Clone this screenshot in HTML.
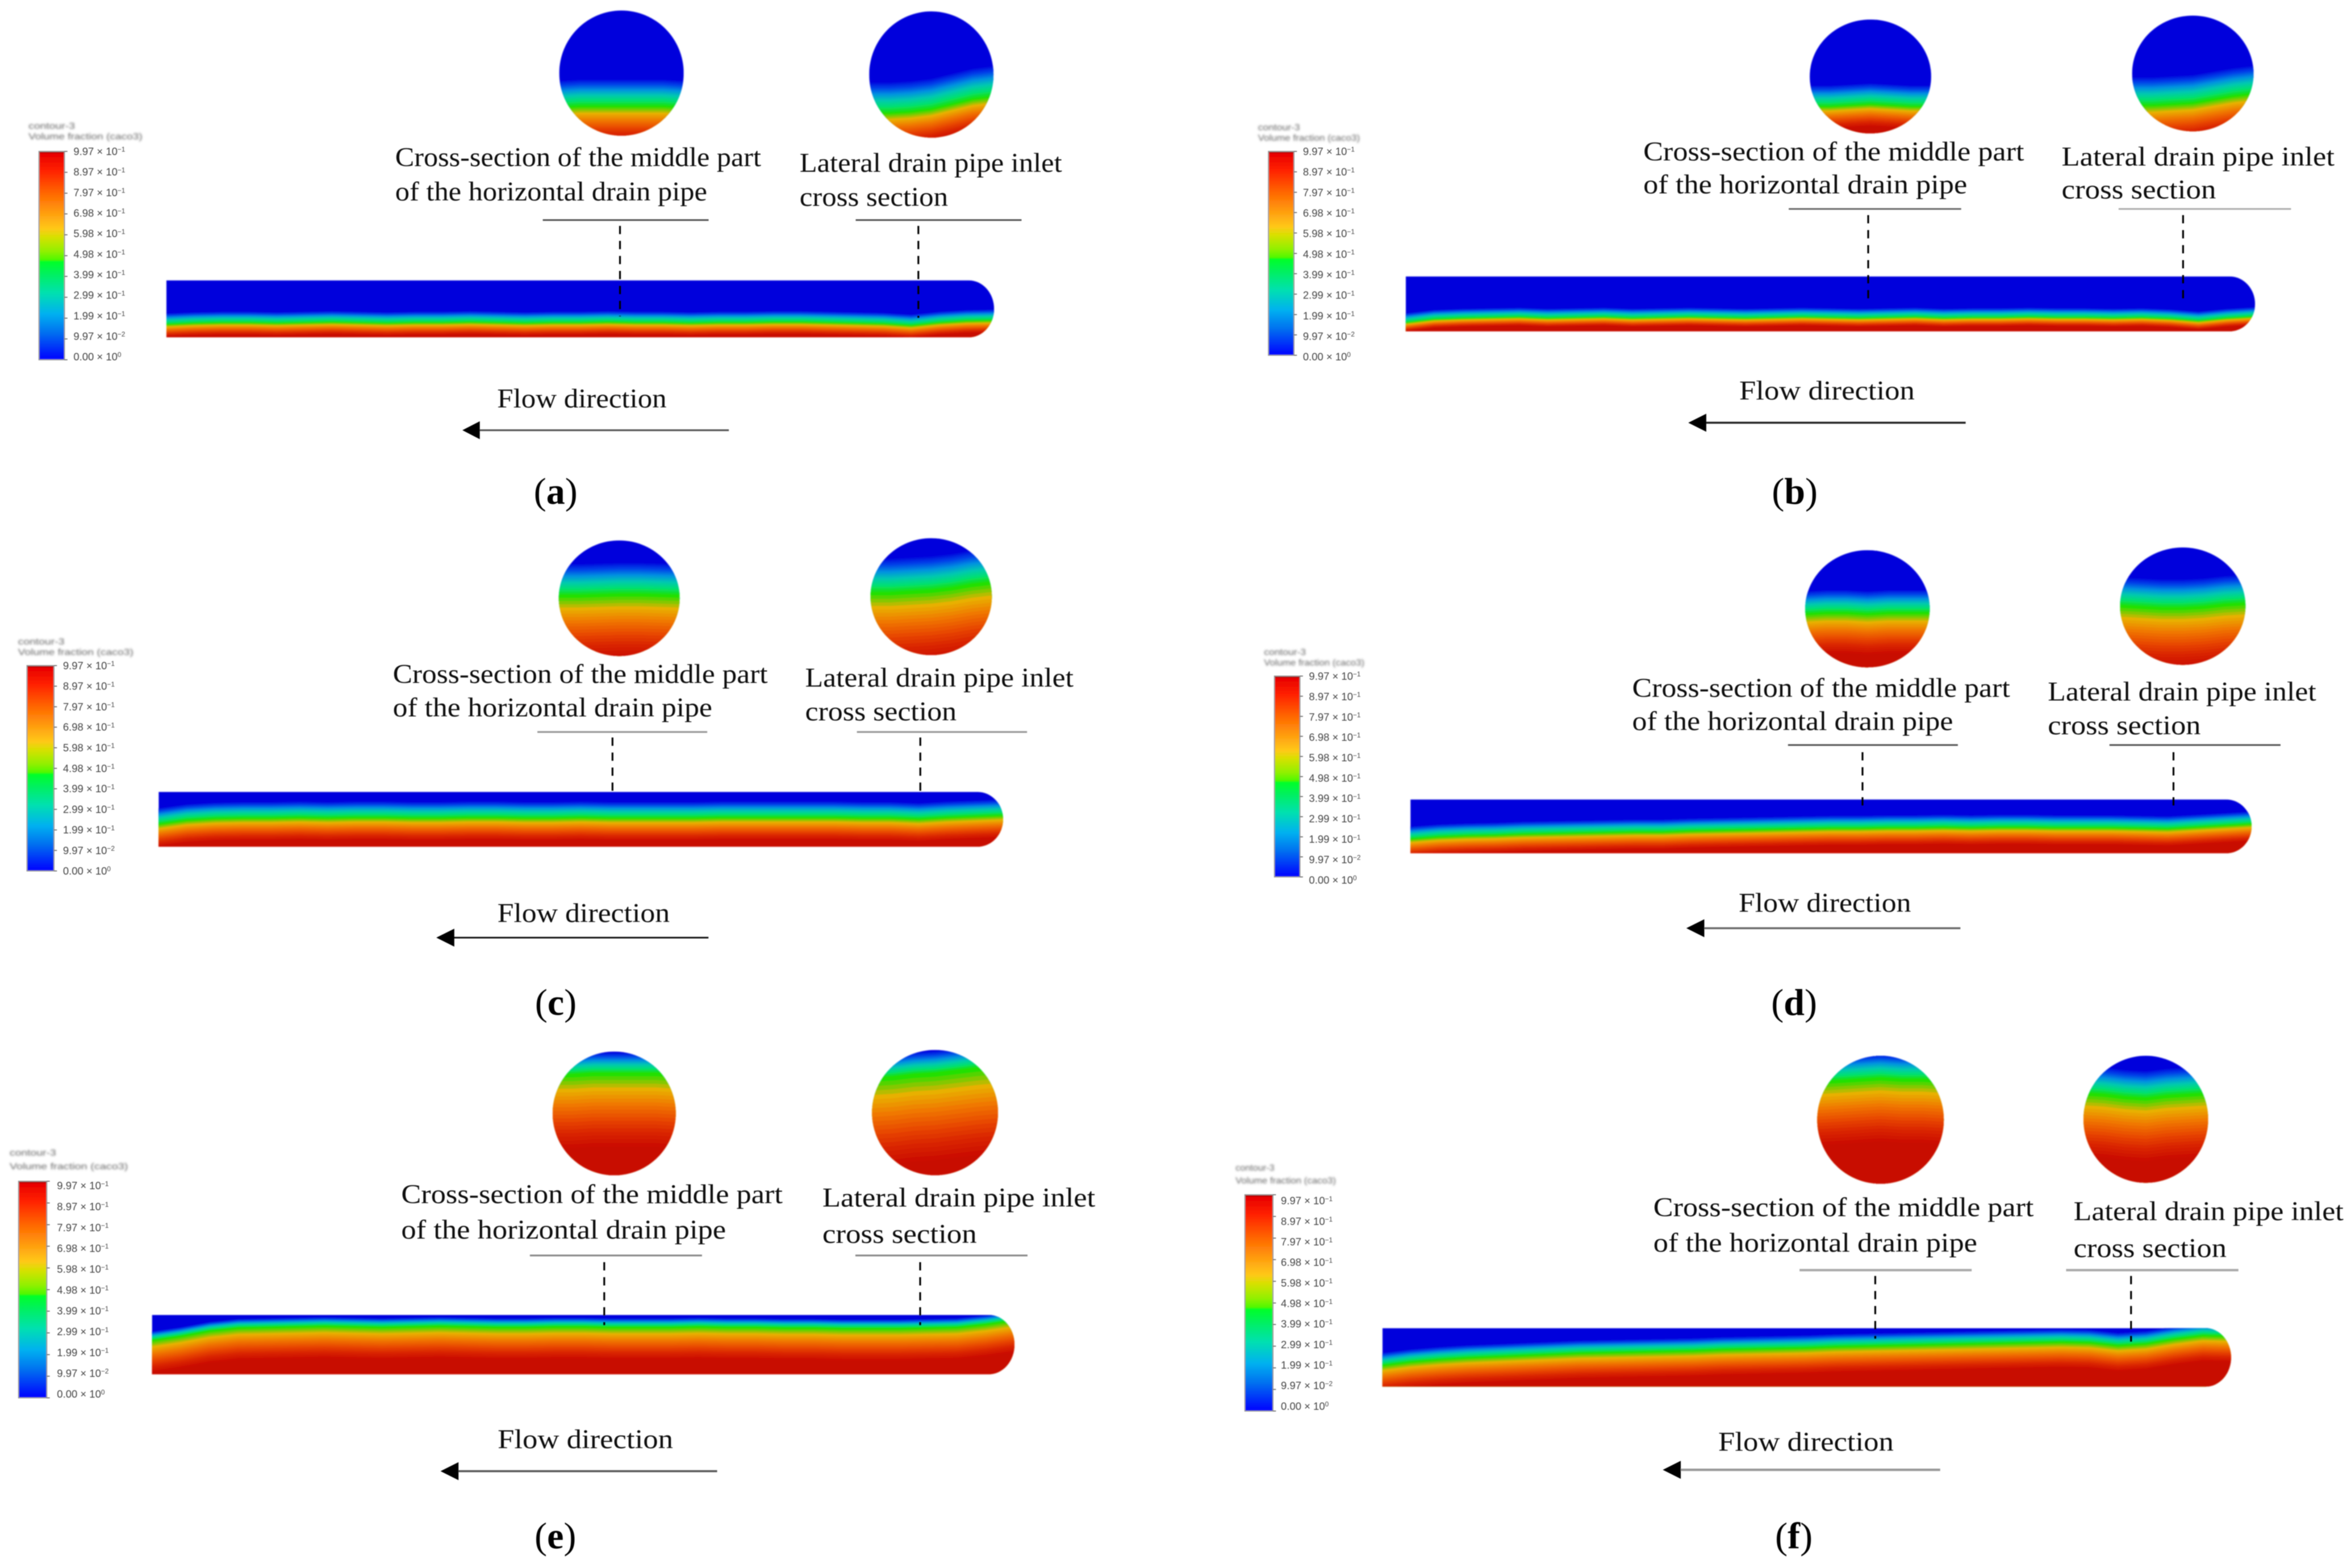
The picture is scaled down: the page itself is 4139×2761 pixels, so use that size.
<!DOCTYPE html>
<html lang="en">
<head>
<meta charset="utf-8">
<title>Volume fraction contours in a horizontal drain pipe</title>
<style>
html,body{margin:0;padding:0;background:#fff;}
svg{display:block;}
.lbl{font-family:"Liberation Serif",serif;font-size:18px;fill:#111;}
.cap{font-family:"Liberation Serif",serif;font-size:25px;fill:#000;text-anchor:middle;}
.cbt{font-family:"Liberation Sans",sans-serif;font-size:6px;fill:#666;}
.cbl{font-family:"Liberation Sans",sans-serif;font-size:7px;fill:#444;}
</style>
</head>
<body>
<svg xmlns="http://www.w3.org/2000/svg" width="4139" height="2761" viewBox="0 0 1568 1046" preserveAspectRatio="none">
<defs>
<filter id="soft" x="-5%" y="-5%" width="110%" height="110%"><feGaussianBlur stdDeviation="0.45"/></filter>
<filter id="softer" x="-5%" y="-20%" width="110%" height="140%"><feGaussianBlur stdDeviation="0.7"/></filter>
<filter id="texts" x="-2%" y="-2%" width="104%" height="104%"><feGaussianBlur stdDeviation="0.3"/></filter>
<linearGradient id="colorbar-gradient" x1="0" y1="0" x2="0" y2="1">
<stop offset="0" stop-color="#8a0000"/><stop offset="0.012" stop-color="#e80000"/>
<stop offset="0.09" stop-color="#ff2000"/><stop offset="0.2" stop-color="#ff6600"/>
<stop offset="0.3" stop-color="#ffa010"/><stop offset="0.37" stop-color="#ffc818"/>
<stop offset="0.41" stop-color="#d8e000"/><stop offset="0.48" stop-color="#90f000"/>
<stop offset="0.52" stop-color="#50f800"/><stop offset="0.53" stop-color="#00ff28"/>
<stop offset="0.59" stop-color="#00f060"/><stop offset="0.68" stop-color="#00e0b0"/>
<stop offset="0.78" stop-color="#00b0f0"/><stop offset="0.87" stop-color="#0070f0"/>
<stop offset="1" stop-color="#0000ff"/>
</linearGradient>
</defs>

<g id="panel-a">
<g id="marks-a"></g>
<g filter="url(#texts)">
<text class="lbl" x="263.6" y="110.9" textLength="244" lengthAdjust="spacingAndGlyphs">Cross-section of the middle part</text>
<text class="lbl" x="263.6" y="133.7" textLength="208" lengthAdjust="spacingAndGlyphs">of the horizontal drain pipe</text>
<text class="lbl" x="533.3" y="114.6" textLength="175" lengthAdjust="spacingAndGlyphs">Lateral drain pipe inlet</text>
<text class="lbl" x="533.3" y="137.4" textLength="99" lengthAdjust="spacingAndGlyphs">cross section</text>
<line x1="362" y1="146.8" x2="472.6" y2="146.8" stroke="#555" stroke-width="1.1"/>
<line x1="570.7" y1="146.8" x2="681.3" y2="146.8" stroke="#555" stroke-width="1.1"/>
<line x1="413.5" y1="150.7" x2="413.5" y2="211" stroke="#000" stroke-width="1.2" stroke-dasharray="5.5 4.5"/>
<line x1="612.5" y1="150.7" x2="612.5" y2="212" stroke="#000" stroke-width="1.2" stroke-dasharray="5.5 4.5"/>
<text class="lbl" x="331.6" y="271.8" textLength="113" lengthAdjust="spacingAndGlyphs">Flow direction</text>
<line x1="316" y1="287" x2="486.1" y2="287" stroke="#555" stroke-width="1.2"/>
<polygon points="308.4,287 320,281 320,293" fill="#000"/>
<text class="cap" x="370.6" y="336">(<tspan font-weight="bold">a</tspan>)</text>
<text class="cbt" x="19" y="86" textLength="31" lengthAdjust="spacingAndGlyphs" filter="url(#softer)">contour-3</text>
<text class="cbt" x="19" y="93" textLength="76" lengthAdjust="spacingAndGlyphs" filter="url(#softer)">Volume fraction (caco3)</text>
</g>
</g>

<g id="panel-b">
<g id="marks-b"></g>
<g filter="url(#texts)">
<text class="lbl" x="1096" y="107" textLength="254" lengthAdjust="spacingAndGlyphs">Cross-section of the middle part</text>
<text class="lbl" x="1096" y="129" textLength="216" lengthAdjust="spacingAndGlyphs">of the horizontal drain pipe</text>
<text class="lbl" x="1375" y="110.5" textLength="182" lengthAdjust="spacingAndGlyphs">Lateral drain pipe inlet</text>
<text class="lbl" x="1375" y="132.5" textLength="103" lengthAdjust="spacingAndGlyphs">cross section</text>
<line x1="1193" y1="139.4" x2="1308" y2="139.4" stroke="#666" stroke-width="1.1"/>
<line x1="1413" y1="139.4" x2="1528" y2="139.4" stroke="#aaa" stroke-width="1.1"/>
<line x1="1246" y1="143.5" x2="1246" y2="203" stroke="#000" stroke-width="1.2" stroke-dasharray="5.5 4.5"/>
<line x1="1456" y1="143.5" x2="1456" y2="203" stroke="#000" stroke-width="1.2" stroke-dasharray="5.5 4.5"/>
<text class="lbl" x="1160" y="266.5" textLength="117" lengthAdjust="spacingAndGlyphs">Flow direction</text>
<line x1="1134" y1="282" x2="1311" y2="282" stroke="#222" stroke-width="1.3"/>
<polygon points="1126,282 1138,276 1138,288" fill="#000"/>
<text class="cap" x="1197" y="336">(<tspan font-weight="bold">b</tspan>)</text>
<text class="cbt" x="839" y="87" textLength="28" lengthAdjust="spacingAndGlyphs" filter="url(#softer)">contour-3</text>
<text class="cbt" x="839" y="94" textLength="68" lengthAdjust="spacingAndGlyphs" filter="url(#softer)">Volume fraction (caco3)</text>
</g>
</g>

<g id="panel-c">
<g id="marks-c"></g>
<g filter="url(#texts)">
<text class="lbl" x="262" y="455.5" textLength="250" lengthAdjust="spacingAndGlyphs">Cross-section of the middle part</text>
<text class="lbl" x="262" y="478" textLength="213" lengthAdjust="spacingAndGlyphs">of the horizontal drain pipe</text>
<text class="lbl" x="537" y="458" textLength="179" lengthAdjust="spacingAndGlyphs">Lateral drain pipe inlet</text>
<text class="lbl" x="537" y="480.5" textLength="101" lengthAdjust="spacingAndGlyphs">cross section</text>
<line x1="358.4" y1="488.3" x2="471.7" y2="488.3" stroke="#999" stroke-width="1.2"/>
<line x1="571.5" y1="488.3" x2="685" y2="488.3" stroke="#999" stroke-width="1.2"/>
<line x1="408.5" y1="492" x2="408.5" y2="532" stroke="#000" stroke-width="1.2" stroke-dasharray="5.5 4.5"/>
<line x1="613.8" y1="492" x2="613.8" y2="532" stroke="#000" stroke-width="1.2" stroke-dasharray="5.5 4.5"/>
<text class="lbl" x="331.7" y="615" textLength="115" lengthAdjust="spacingAndGlyphs">Flow direction</text>
<line x1="299" y1="625.5" x2="472.5" y2="625.5" stroke="#111" stroke-width="1.1"/>
<polygon points="291,625.5 303,619.5 303,631.5" fill="#000"/>
<text class="cap" x="370.7" y="677">(<tspan font-weight="bold">c</tspan>)</text>
<text class="cbt" x="12" y="430" textLength="31" lengthAdjust="spacingAndGlyphs" filter="url(#softer)">contour-3</text>
<text class="cbt" x="12" y="437" textLength="77" lengthAdjust="spacingAndGlyphs" filter="url(#softer)">Volume fraction (caco3)</text>
</g>
</g>

<g id="panel-d">
<g id="marks-d"></g>
<g filter="url(#texts)">
<text class="lbl" x="1088.6" y="464.8" textLength="252" lengthAdjust="spacingAndGlyphs">Cross-section of the middle part</text>
<text class="lbl" x="1088.6" y="487" textLength="214" lengthAdjust="spacingAndGlyphs">of the horizontal drain pipe</text>
<text class="lbl" x="1365.8" y="467.4" textLength="179" lengthAdjust="spacingAndGlyphs">Lateral drain pipe inlet</text>
<text class="lbl" x="1365.8" y="489.8" textLength="102" lengthAdjust="spacingAndGlyphs">cross section</text>
<line x1="1192.5" y1="497" x2="1305.8" y2="497" stroke="#555" stroke-width="1.1"/>
<line x1="1406.9" y1="497" x2="1521" y2="497" stroke="#555" stroke-width="1.1"/>
<line x1="1242.2" y1="501.8" x2="1242.2" y2="540" stroke="#000" stroke-width="1.2" stroke-dasharray="5.5 4.5"/>
<line x1="1449.6" y1="501.8" x2="1449.6" y2="540" stroke="#000" stroke-width="1.2" stroke-dasharray="5.5 4.5"/>
<text class="lbl" x="1159.6" y="608.3" textLength="115" lengthAdjust="spacingAndGlyphs">Flow direction</text>
<line x1="1132" y1="619.2" x2="1307.5" y2="619.2" stroke="#666" stroke-width="1.3"/>
<polygon points="1124.7,619.2 1136.7,613.2 1136.7,625.2" fill="#000"/>
<text class="cap" x="1196.6" y="677">(<tspan font-weight="bold">d</tspan>)</text>
<text class="cbt" x="843" y="437" textLength="28" lengthAdjust="spacingAndGlyphs" filter="url(#softer)">contour-3</text>
<text class="cbt" x="843" y="444" textLength="67" lengthAdjust="spacingAndGlyphs" filter="url(#softer)">Volume fraction (caco3)</text>
</g>
</g>

<g id="panel-e">
<g id="marks-e"></g>
<g filter="url(#texts)">
<text class="lbl" x="267.6" y="802.5" textLength="254.4" lengthAdjust="spacingAndGlyphs">Cross-section of the middle part</text>
<text class="lbl" x="267.6" y="826.2" textLength="216.6" lengthAdjust="spacingAndGlyphs">of the horizontal drain pipe</text>
<text class="lbl" x="548.5" y="804.8" textLength="182" lengthAdjust="spacingAndGlyphs">Lateral drain pipe inlet</text>
<text class="lbl" x="548.5" y="829.2" textLength="103" lengthAdjust="spacingAndGlyphs">cross section</text>
<line x1="353.4" y1="837.5" x2="468.2" y2="837.5" stroke="#888" stroke-width="1.2"/>
<line x1="570.5" y1="837.5" x2="685.3" y2="837.5" stroke="#888" stroke-width="1.2"/>
<line x1="403" y1="842" x2="403" y2="884" stroke="#000" stroke-width="1.2" stroke-dasharray="5.5 4.5"/>
<line x1="613.7" y1="842" x2="613.7" y2="884" stroke="#000" stroke-width="1.2" stroke-dasharray="5.5 4.5"/>
<text class="lbl" x="331.9" y="966" textLength="117" lengthAdjust="spacingAndGlyphs">Flow direction</text>
<line x1="301" y1="981.4" x2="478.3" y2="981.4" stroke="#555" stroke-width="1.3"/>
<polygon points="293.8,981.4 305.8,975.4 305.8,987.4" fill="#000"/>
<text class="cap" x="370.4" y="1033">(<tspan font-weight="bold">e</tspan>)</text>
<text class="cbt" x="6.4" y="771" textLength="31" lengthAdjust="spacingAndGlyphs" filter="url(#softer)">contour-3</text>
<text class="cbt" x="6.4" y="780" textLength="79" lengthAdjust="spacingAndGlyphs" filter="url(#softer)">Volume fraction (caco3)</text>
</g>
</g>

<g id="panel-f">
<g id="marks-f"></g>
<g filter="url(#texts)">
<text class="lbl" x="1102.7" y="811.3" textLength="253.7" lengthAdjust="spacingAndGlyphs">Cross-section of the middle part</text>
<text class="lbl" x="1102.7" y="835" textLength="216" lengthAdjust="spacingAndGlyphs">of the horizontal drain pipe</text>
<text class="lbl" x="1383" y="814" textLength="180" lengthAdjust="spacingAndGlyphs">Lateral drain pipe inlet</text>
<text class="lbl" x="1383" y="838.5" textLength="102" lengthAdjust="spacingAndGlyphs">cross section</text>
<line x1="1200.2" y1="847.3" x2="1315" y2="847.3" stroke="#aaa" stroke-width="1.6"/>
<line x1="1378" y1="847.3" x2="1492.9" y2="847.3" stroke="#aaa" stroke-width="1.6"/>
<line x1="1250.7" y1="851.2" x2="1250.7" y2="893" stroke="#000" stroke-width="1.2" stroke-dasharray="5.5 4.5"/>
<line x1="1421.3" y1="851.2" x2="1421.3" y2="895" stroke="#000" stroke-width="1.2" stroke-dasharray="5.5 4.5"/>
<text class="lbl" x="1146" y="967.8" textLength="117" lengthAdjust="spacingAndGlyphs">Flow direction</text>
<line x1="1117" y1="980.5" x2="1294" y2="980.5" stroke="#999" stroke-width="1.6"/>
<polygon points="1109,980.5 1121,974.5 1121,986.5" fill="#000"/>
<text class="cap" x="1196.4" y="1033">(<tspan font-weight="bold">f</tspan>)</text>
<text class="cbt" x="824" y="781" textLength="26" lengthAdjust="spacingAndGlyphs" filter="url(#softer)">contour-3</text>
<text class="cbt" x="824" y="789.5" textLength="67" lengthAdjust="spacingAndGlyphs" filter="url(#softer)">Volume fraction (caco3)</text>
</g>
</g>
</svg>

<script>
// Colour bar data
const colorbarValues = [0.997, 0.897, 0.797, 0.698, 0.598, 0.498, 0.399, 0.299, 0.199, 0.0997, 0];
const colorbarMantissas = ['9.97', '8.97', '7.97', '6.98', '5.98', '4.98', '3.99', '2.99', '1.99', '9.97', '0.00'];
const colorbarExponents = ['−1', '−1', '−1', '−1', '−1', '−1', '−1', '−1', '−1', '−2', '0'];

// Water/air interface (the green contour) along each pipe, left to right,
// as a fraction of pipe height measured down from the pipe top.
const pipeInterfaceA = [.77,.75,.74,.74,.75,.74,.73,.74,.75,.74,.74,.73,.74,.75,.74,.74,.73,.74,.74,.75,.74,.74,.73,.73,.74,.75,.76,.79,.74,.71,.70];
const pipeInterfaceB = [.84,.78,.76,.75,.74,.76,.75,.74,.76,.75,.74,.75,.76,.75,.74,.75,.76,.75,.74,.76,.75,.75,.74,.75,.75,.76,.75,.77,.81,.76,.73];
const pipeInterfaceC = [.58,.51,.48,.47,.47,.46,.47,.46,.46,.47,.47,.46,.46,.47,.47,.46,.47,.47,.47,.47,.46,.46,.46,.46,.46,.47,.47,.49,.46,.44,.42];
const pipeInterfaceD = [.73,.69,.67,.66,.64,.63,.62,.61,.60,.60,.58,.57,.56,.55,.54,.53,.53,.52,.52,.51,.52,.51,.51,.52,.52,.52,.53,.54,.51,.48,.45];
const pipeInterfaceE = [.42,.35,.26,.21,.20,.19,.18,.19,.20,.19,.18,.19,.20,.20,.19,.19,.20,.20,.20,.19,.20,.20,.21,.21,.22,.22,.22,.21,.20,.15,.08];
const pipeInterfaceF = [.63,.57,.53,.50,.48,.46,.44,.42,.41,.40,.39,.38,.36,.35,.34,.33,.31,.30,.29,.28,.27,.26,.25,.24,.23,.24,.29,.26,.18,.12,.13];

// Interface across each cross-section, left to right, as a fraction of section height.
const midInterfaceA = [.77,.76,.76,.76,.76,.76,.77];
const midInterfaceB = [.76,.76,.75,.74,.75,.76,.76];
const midInterfaceC = [.47,.47,.465,.46,.46,.465,.47];
const midInterfaceD = [.54,.53,.53,.54,.53,.53,.53];
const midInterfaceE = [.18,.18,.17,.17,.17,.17,.18];
const midInterfaceF = [.20,.19,.18,.17,.18,.18,.19];
const sideInterfaceA = [.80,.80,.79,.77,.73,.69,.67];
const sideInterfaceB = [.77,.77,.76,.75,.72,.69,.67];
const sideInterfaceC = [.46,.46,.45,.44,.42,.39,.37];
const sideInterfaceD = [.49,.50,.51,.51,.50,.48,.47];
const sideInterfaceE = [.22,.21,.19,.18,.16,.14,.125];
const sideInterfaceF = [.29,.30,.32,.33,.31,.30,.29];

// Transition thickness above (to blue) and below (to red) the interface, panels a to f.
const pipeBlueSpread = [.20, .18, .30, .24, .15, .22];
const pipeRedSpread = [.22, .16, .42, .33, .55, .45];
const midBlueSpread = [.22, .19, .28, .20, .17, .20];
const midRedSpread = [.28, .20, .55, .35, .60, .50];
const sideBlueSpread = [.25, .25, .30, .25, .18, .22];
const sideRedSpread = [.26, .30, .60, .50, .70, .50];

// Simulation colour scale used inside the contours (evenly spaced from 0 to 1).
const contourColors = ['#0000dc','#0040e8','#0090e0','#00c8b0','#00e070','#20e000','#e8b000','#f07800','#e84800','#d82000','#c80800'];

// Page geometry for each panel (not data).
const panelLayouts = [
  {id:'a', pipe:[111,187,663,225],      mid:[373,7,456,90.5],       side:[579.7,7.6,662.6,91.8],   bar:[26,101,43,240],      labelX:49, labelTop:101, labelBottom:238},
  {id:'b', pipe:[937.6,184.4,1504,221], mid:[1207,13,1288,89],      side:[1422,10.4,1503,87.6],    bar:[846,101,863,237],    labelX:869, labelTop:101, labelBottom:238},
  {id:'c', pipe:[105.8,528.3,669,564.8],mid:[372.7,360.5,453.3,437.6],side:[580.6,359,661.5,437],  bar:[18,444,36,581],      labelX:42, labelTop:444, labelBottom:581},
  {id:'d', pipe:[940.7,533.3,1501.7,569.2],mid:[1204,367,1287,445.2],side:[1414,365.2,1497.6,443.5],bar:[850,451,867,585],   labelX:873, labelTop:451, labelBottom:587},
  {id:'e', pipe:[101.4,877.2,676.6,916.7],mid:[368.6,701.5,450.7,784],side:[581.6,700.4,665.6,784],bar:[12.4,788,31.2,932.5],labelX:38, labelTop:791, labelBottom:930},
  {id:'f', pipe:[922,886,1488,925],     mid:[1212,704.3,1296.4,789.7],side:[1389.6,704.3,1472.7,789],bar:[830.3,797,849,941.3],labelX:854.3, labelTop:801, labelBottom:938}
];
const pipeInterfaces = [pipeInterfaceA, pipeInterfaceB, pipeInterfaceC, pipeInterfaceD, pipeInterfaceE, pipeInterfaceF];
const midInterfaces = [midInterfaceA, midInterfaceB, midInterfaceC, midInterfaceD, midInterfaceE, midInterfaceF];
const sideInterfaces = [sideInterfaceA, sideInterfaceB, sideInterfaceC, sideInterfaceD, sideInterfaceE, sideInterfaceF];

const SVGNS = 'http://www.w3.org/2000/svg';
const BAND_COUNT = 40;

function make(tag, parent) {
  const el = document.createElementNS(SVGNS, tag);
  parent.appendChild(el);
  return el;
}
function hexToRgb(hex) {
  return [1, 3, 5].map(function (i) { return parseInt(hex.substr(i, 2), 16); });
}
function colorAt(v) {
  const pos = Math.max(0, Math.min(1, v)) * (contourColors.length - 1);
  const i = Math.min(contourColors.length - 2, Math.floor(pos));
  const t = pos - i;
  const a = hexToRgb(contourColors[i]);
  const b = hexToRgb(contourColors[i + 1]);
  return 'rgb(' + a.map(function (c, k) { return Math.round(c + (b[k] - c) * t); }).join(',') + ')';
}
// Depth offset (as fraction of height) of a volume-fraction level from the interface.
function levelOffset(v, blueSpread, redSpread) {
  return v < 0.5 ? (v - 0.5) * 2 * blueSpread : (v - 0.5) * 2 * redSpread;
}
function drawBands(parent, box, interfaceValues, blueSpread, redSpread) {
  const x0 = box[0], y0 = box[1], x1 = box[2], y1 = box[3];
  const xScale = function (i) { return x0 + (x1 - x0) * i / (interfaceValues.length - 1); };
  const yScale = function (f) { return y0 + (y1 - y0) * f; };
  const base = make('rect', parent);
  base.setAttribute('x', x0);
  base.setAttribute('y', y0);
  base.setAttribute('width', x1 - x0);
  base.setAttribute('height', y1 - y0);
  base.setAttribute('fill', colorAt(0));
  
  
  for (let b = 1; b <= BAND_COUNT; b++) {
    const v = b / BAND_COUNT;
    const offset = levelOffset(v, blueSpread, redSpread);
    const pts = [(x0 - 1) + ',' + (y1 + 1)];
    interfaceValues.forEach(function (f, i) {
      const y = yScale(f + offset);
      if (i === 0) pts.push((x0 - 1) + ',' + y.toFixed(2));
      pts.push(xScale(i).toFixed(2) + ',' + y.toFixed(2));
    });
    pts.push((x1 + 1) + ',' + yScale(interfaceValues[interfaceValues.length - 1] + offset).toFixed(2));
    pts.push((x1 + 1) + ',' + (y1 + 1));
    const band = make('polygon', parent);
    band.setAttribute('points', pts.join(' '));
    band.setAttribute('fill', colorAt(v));
    
    
  }
}
function drawClipped(parent, clipId, shapeBuilder, box, values, blueSpread, redSpread, name) {
  const defs = make('defs', parent);
  const clip = make('clipPath', defs);
  clip.setAttribute('id', clipId);
  shapeBuilder(clip);
  const outer = make('g', parent);
  outer.setAttribute('filter', 'url(#soft)');
  
  
  const inner = make('g', outer);
  inner.setAttribute('clip-path', 'url(#' + clipId + ')');
  drawBands(inner, box, values, blueSpread, redSpread);
}
function ellipseShape(box) {
  return function (clip) {
    const e = make('ellipse', clip);
    e.setAttribute('cx', (box[0] + box[2]) / 2);
    e.setAttribute('cy', (box[1] + box[3]) / 2);
    e.setAttribute('rx', (box[2] - box[0]) / 2);
    e.setAttribute('ry', (box[3] - box[1]) / 2);
  };
}
function pipeShape(box) {
  return function (clip) {
    const p = make('path', clip);
    const h = (box[3] - box[1]) / 2;
    p.setAttribute('d', 'M' + box[0] + ' ' + box[1] + 'H' + (box[2] - 17) + 'A17 ' + h + ' 0 0 1 ' + (box[2] - 17) + ' ' + box[3] + 'H' + box[0] + 'Z');
  };
}
function drawColorbar(parent, layout) {
  const box = layout.bar;
  const x0 = box[0], y0 = box[1], x1 = box[2], y1 = box[3];
  const yOfValue = function (v) { return y1 - (y1 - y0) * v / colorbarValues[0]; };
  const labelY = function (v) { return layout.labelBottom - (layout.labelBottom - layout.labelTop) * v / colorbarValues[0]; };
  const group = make('g', parent);
  group.setAttribute('filter', 'url(#texts)');
  
  
  const bar = make('rect', group);
  bar.setAttribute('x', x0);
  bar.setAttribute('y', y0);
  bar.setAttribute('width', x1 - x0);
  bar.setAttribute('height', y1 - y0);
  bar.setAttribute('fill', 'url(#colorbar-gradient)');
  bar.setAttribute('stroke', '#999');
  bar.setAttribute('stroke-width', '0.7');
  
  
  colorbarValues.forEach(function (v, i) {
    const y = yOfValue(v);
    const tick = make('line', group);
    tick.setAttribute('x1', x1);
    tick.setAttribute('x2', x1 + 2);
    tick.setAttribute('y1', y);
    tick.setAttribute('y2', y);
    tick.setAttribute('stroke', '#666');
    tick.setAttribute('stroke-width', '0.6');
    
    
    const label = make('text', group);
    label.setAttribute('class', 'cbl');
    label.setAttribute('x', layout.labelX);
    label.setAttribute('y', labelY(v) + 2.4);
    
    
    label.textContent = colorbarMantissas[i] + ' × 10';
    const sup = make('tspan', label);
    sup.setAttribute('dy', '-2.2');
    sup.setAttribute('font-size', '4.5');
    sup.textContent = colorbarExponents[i];
  });
}

panelLayouts.forEach(function (layout, p) {
  const host = document.getElementById('marks-' + layout.id);
  drawColorbar(host, layout);
  drawClipped(host, 'clip-mid-' + layout.id, ellipseShape(layout.mid), layout.mid, midInterfaces[p], midBlueSpread[p], midRedSpread[p], 'middle-cross-section');
  drawClipped(host, 'clip-side-' + layout.id, ellipseShape(layout.side), layout.side, sideInterfaces[p], sideBlueSpread[p], sideRedSpread[p], 'inlet-cross-section');
  drawClipped(host, 'clip-pipe-' + layout.id, pipeShape(layout.pipe), layout.pipe, pipeInterfaces[p], pipeBlueSpread[p], pipeRedSpread[p], 'horizontal-drain-pipe');
});
</script>
</body>
</html>
